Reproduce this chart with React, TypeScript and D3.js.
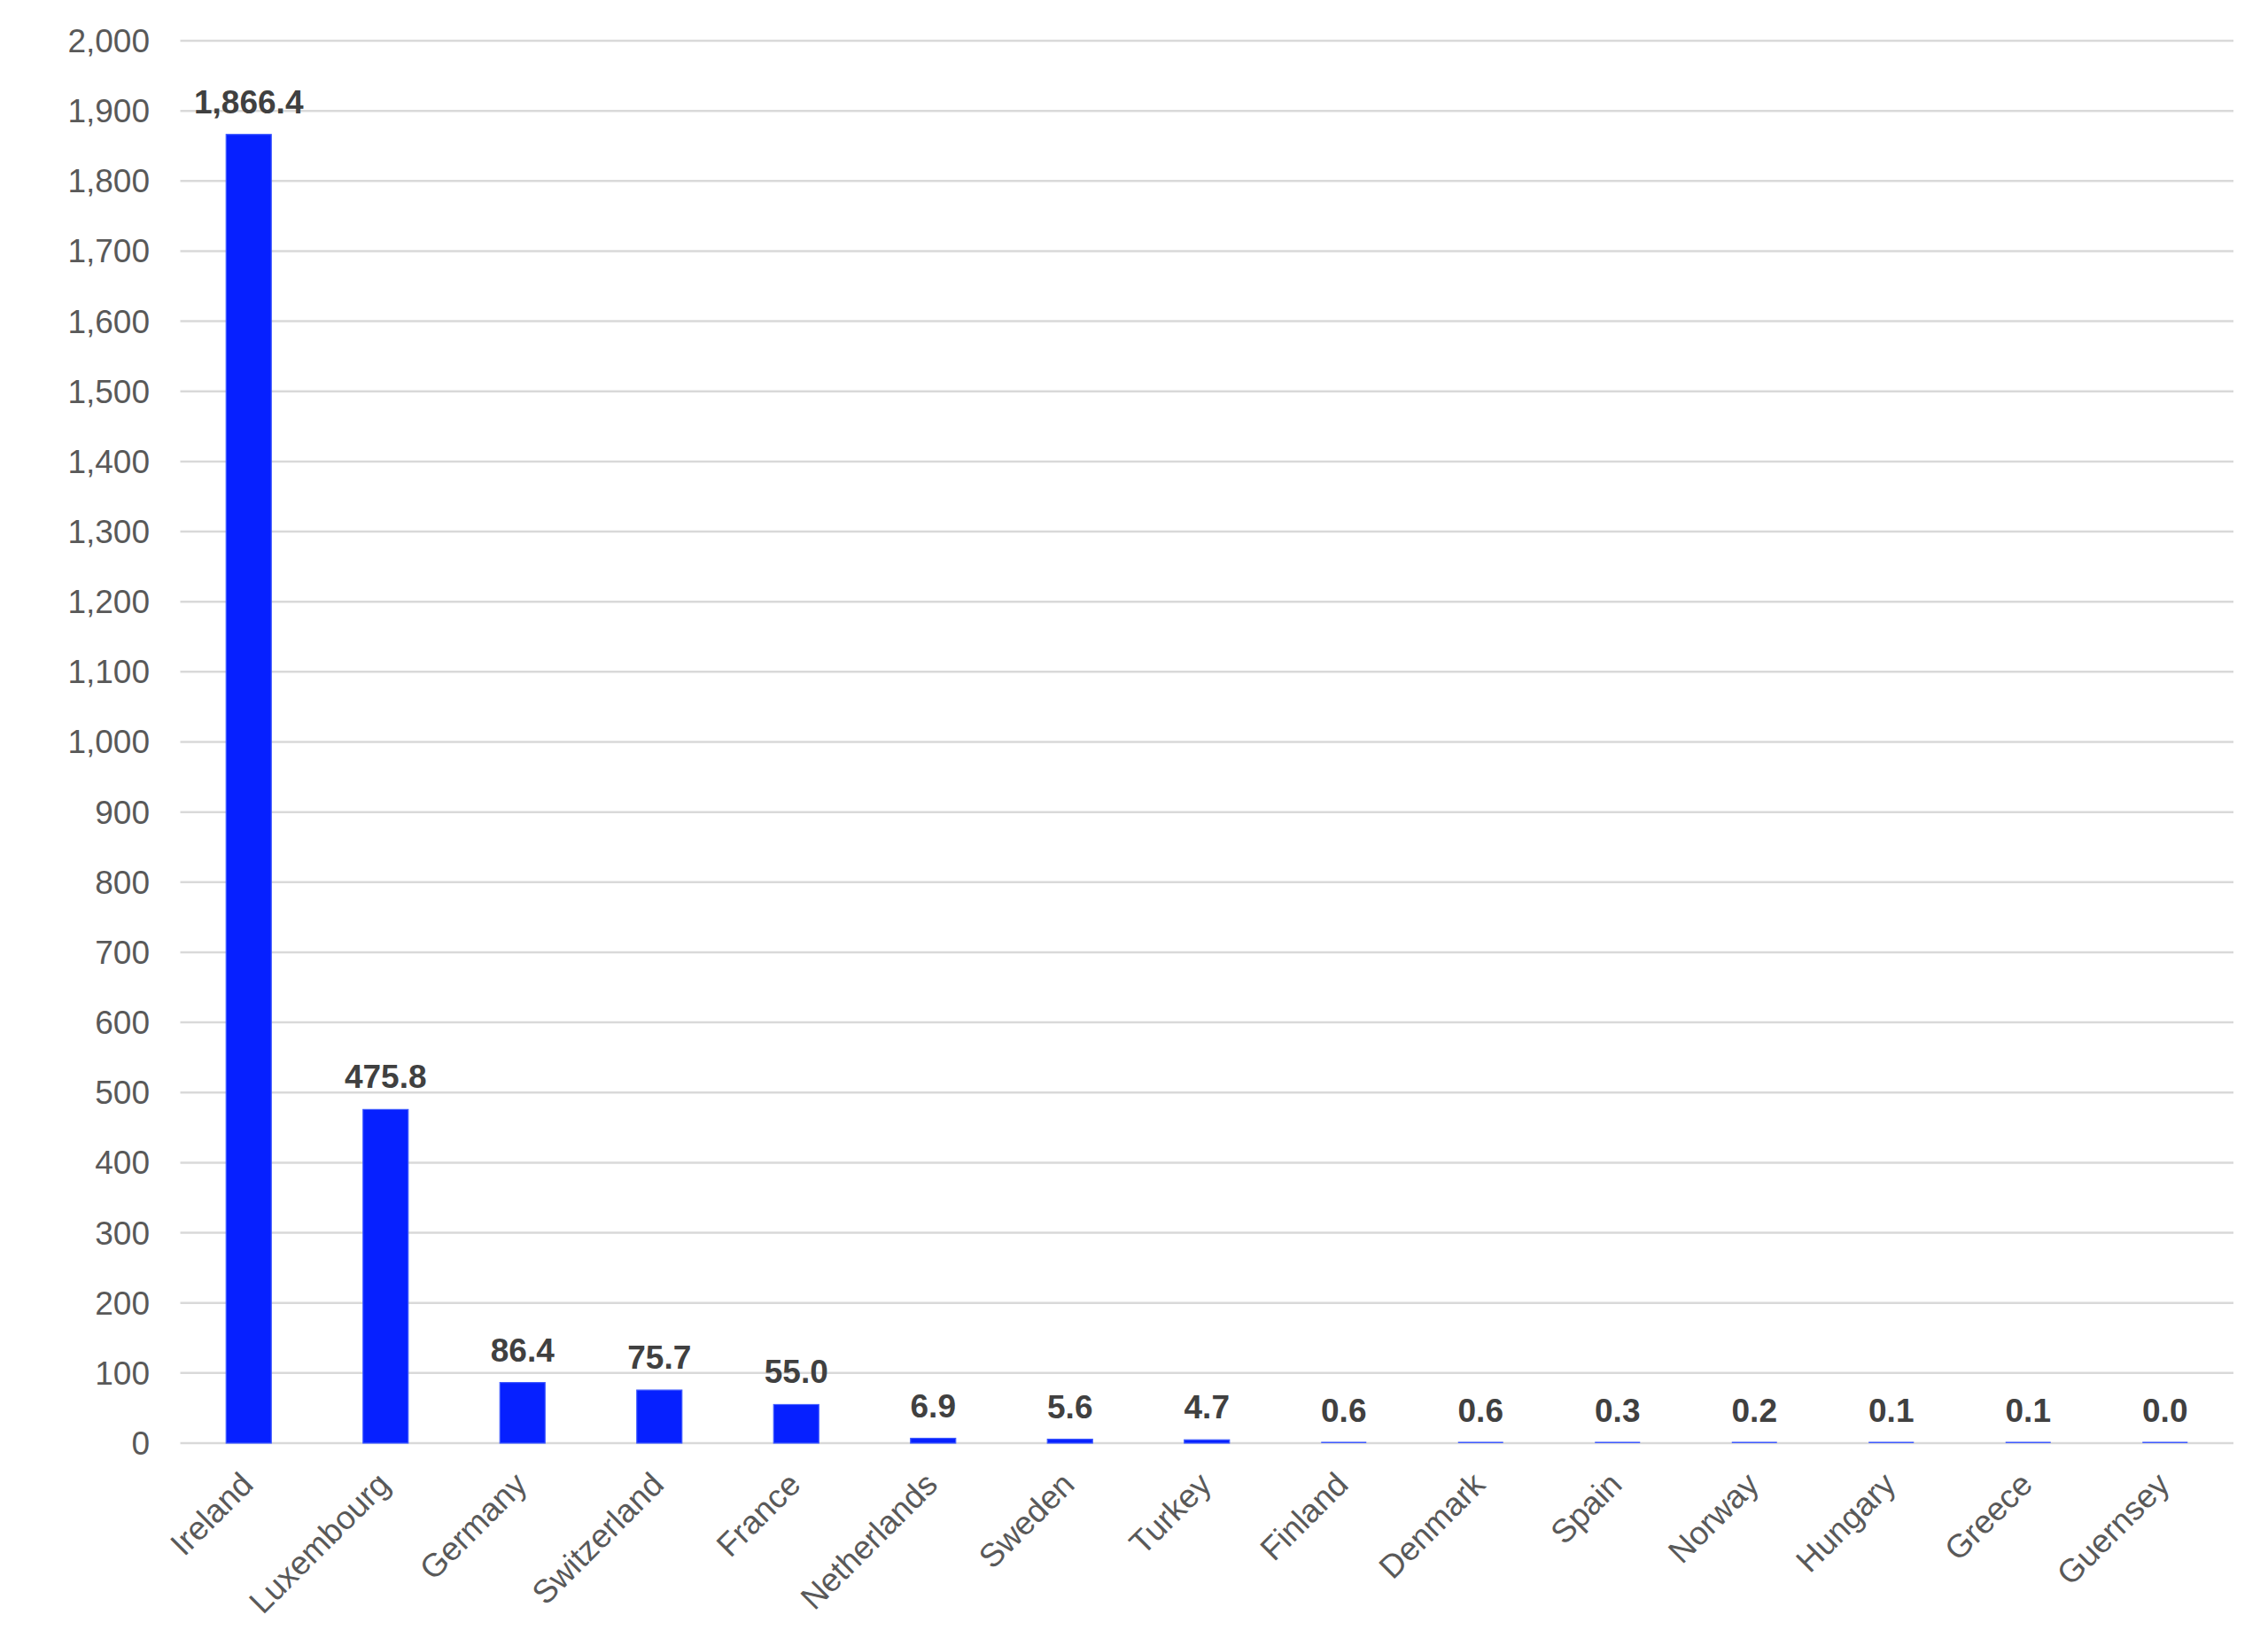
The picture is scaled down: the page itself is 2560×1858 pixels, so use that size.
import React, { useEffect } from "react";
import * as d3 from "d3";

const countries: string[] = [
  "Ireland", "Luxembourg", "Germany", "Switzerland", "France", "Netherlands",
  "Sweden", "Turkey", "Finland", "Denmark", "Spain", "Norway", "Hungary", "Greece", "Guernsey",
];
const values: number[] = [1866.4, 475.8, 86.4, 75.7, 55.0, 6.9, 5.6, 4.7, 0.6, 0.6, 0.3, 0.2, 0.1, 0.1, 0.0];
const yTicks: number[] = d3.range(0, 2001, 100);

const W = 2560;
const H = 1858;
const M = { left: 203.5, right: 2521, top: 46, bottom: 1629 };

const FONT = "'Liberation Sans', Arial, Helvetica, sans-serif";
const BAR = "#0620ff";
const BAR_EDGE = "#3f5aff";
const GRID = "#d9d9d9";

export default function App() {
  useEffect(() => {
    document.body.style.margin = "0";
  }, []);

  const x = d3
    .scaleBand<string>()
    .domain(countries)
    .range([M.left, M.right])
    .paddingInner(0.67)
    .paddingOuter(0.335);
  const y = d3.scaleLinear().domain([0, 2000]).range([M.bottom, M.top]);
  const fmtTick = d3.format(",");
  const fmtVal = d3.format(",.1f");

  return (
    <svg width={W} height={H} style={{ display: "block", background: "#fff" }} fontFamily={FONT}>
      {yTicks.map((t) => (
        <g key={t}>
          <line x1={M.left} x2={M.right} y1={y(t)} y2={y(t)} stroke={GRID} strokeWidth={2.5} />
          <text x={169} y={y(t)} dy="0.35em" textAnchor="end" fontSize={37} fill="#595959">
            {fmtTick(t)}
          </text>
        </g>
      ))}
      {countries.map((c, i) => {
        const bx = x(c) as number;
        const bw = x.bandwidth();
        const top = y(values[i]);
        const h = Math.max(1.5, y(0) - top);
        const cx = bx + bw / 2;
        return (
          <g key={c}>
            <rect
              x={bx}
              y={y(0) - h}
              width={bw}
              height={h}
              fill={h < 2 ? BAR_EDGE : BAR}
              stroke={BAR_EDGE}
              strokeWidth={h < 2 ? 0 : 1.2}
            />
            <text x={cx} y={top - 24} textAnchor="middle" fontSize={37} fontWeight="bold" fill="#404040">
              {fmtVal(values[i])}
            </text>
            <text
              transform={`translate(${cx + 7},${y(0) + 49}) rotate(-45)`}
              textAnchor="end"
              fontSize={37}
              fill="#595959"
            >
              {c}
            </text>
          </g>
        );
      })}
    </svg>
  );
}
